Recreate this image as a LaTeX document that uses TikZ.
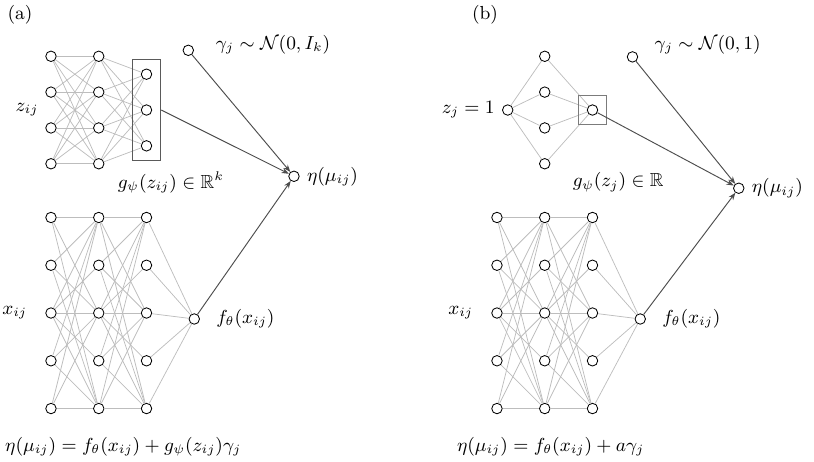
\documentclass[tikz,border=0pt]{standalone}
\usepackage{amsmath,amssymb}
\usepackage{tikz}
\usetikzlibrary{arrows.meta,positioning}
\definecolor{Edge}{HTML}{BDBDBD}
\definecolor{Arrow}{HTML}{4D4D4D}
\definecolor{Frame}{HTML}{5A5A5A}

\begin{document}
\begin{tikzpicture}[>={Stealth[length=3.5pt,width=2.6pt]},font=\small,
 unit/.style={circle,draw,fill=white,inner sep=0pt,minimum size=5pt},
 link/.style={Edge,line width=0.35pt},
 feed/.style={->,Arrow,line width=0.45pt}]
\useasboundingbox (-0.854,-2.479) rectangle (12.78,5.243);

% the x network, same in both panels
\foreach \p/\s in {a/0,b/7.47}{
 \foreach \l in {1,2,3}{
  \foreach \i in {1,...,5}
   \node[unit] (\p x\l-\i) at (\s+0.8*\l-0.8,2.4-0.8*\i) {};
 }
 \node[unit] (\p f) at (\s+2.4,-0.1) {};
 \foreach \i/\j in {1/1,1/3,1/5,2/1,2/3,2/5,3/1,3/2,3/3,3/4,3/5,4/1,4/3,4/5,5/1,5/3,5/5}{
  \draw[link] (\p x1-\i) -- (\p x2-\j);
  \draw[link] (\p x2-\i) -- (\p x3-\j);
 }
 \foreach \i in {1,...,5}
  \draw[link] (\p x3-\i) -- (\p f);
 \node[left=0.18cm of \p x1-3] (\p xlab) {$x_{ij}$};
 \node[right=0.15cm of \p f] (\p flab) {$f_\theta(x_{ij})$};
}

% (a)
\foreach \i in {1,...,4}{
 \node[unit] (az1-\i) at (0,4.9-0.6*\i) {};
 \node[unit] (az2-\i) at (0.8,4.9-0.6*\i) {};
}
\foreach \k in {1,2,3}
 \node[unit] (az3-\k) at (1.6,4.6-0.6*\k) {};
\foreach \i in {1,...,4}{
 \foreach \j in {1,...,4} \draw[link] (az1-\i) -- (az2-\j);
 \foreach \k in {1,2,3} \draw[link] (az2-\i) -- (az3-\k);
}
\node[draw=Frame,minimum width=0.48cm,minimum height=1.7cm] (abox) at (1.6,3.4) {};
\node[unit] (agam) at (2.3,4.4) {};
\node[unit] (aeta) at (4.07,2.29) {};
\draw[feed] (agam) -- (aeta);
\draw[feed] (abox.east) -- (aeta);
\draw[feed] (af) -- (aeta);
\node (alab) at (-0.52,4.99) {(a)};
\node (azlab) at (-0.4,3.4) {$z_{ij}$};
\node (aglab) at (3.72,4.49) {$\gamma_j\sim\mathcal{N}(0,I_k)$};
\node[right=0pt of aeta] (aetalab) {$\eta(\mu_{ij})$};
\node (aglab) at (2.01,2.19) {$g_\psi(z_{ij})\in\mathbb{R}^k$};
\node (aeq) at (1.21,-2.24) {$\eta(\mu_{ij})=f_\theta(x_{ij})+g_\psi(z_{ij})\gamma_j$};

% (b)
\node[unit] (bz) at (7.65,3.4) {};
\foreach \i in {1,...,4}
 \node[unit] (bh-\i) at (8.27,4.9-0.6*\i) {};
\node[unit] (bg) at (9.07,3.4) {};
\foreach \i in {1,...,4}{
 \draw[link] (bz) -- (bh-\i);
 \draw[link] (bh-\i) -- (bg);
}
\node[draw=Frame!80,minimum size=0.48cm] (bbox) at (bg) {};
\node[unit] (bgam) at (9.74,4.29) {};
\node[unit] (beta) at (11.52,2.09) {};
\draw[feed] (bgam) -- (beta);
\draw[feed] (bg) -- (beta);
\draw[feed] (bf) -- (beta);
\node (blab) at (7.27,4.99) {(b)};
\node[left=0pt of bz] (bzlab) {$z_j=1$};
\node (bglab) at (11.0,4.49) {$\gamma_j\sim\mathcal{N}(0,1)$};
\node[right=0pt of beta] (betalab) {$\eta(\mu_{ij})$};
\node (bglab) at (9.5,2.19) {$g_\psi(z_j)\in\mathbb{R}$};
\node (beq) at (8.37,-2.24) {$\eta(\mu_{ij})=f_\theta(x_{ij})+a\gamma_j$};
\end{tikzpicture}
\end{document}
